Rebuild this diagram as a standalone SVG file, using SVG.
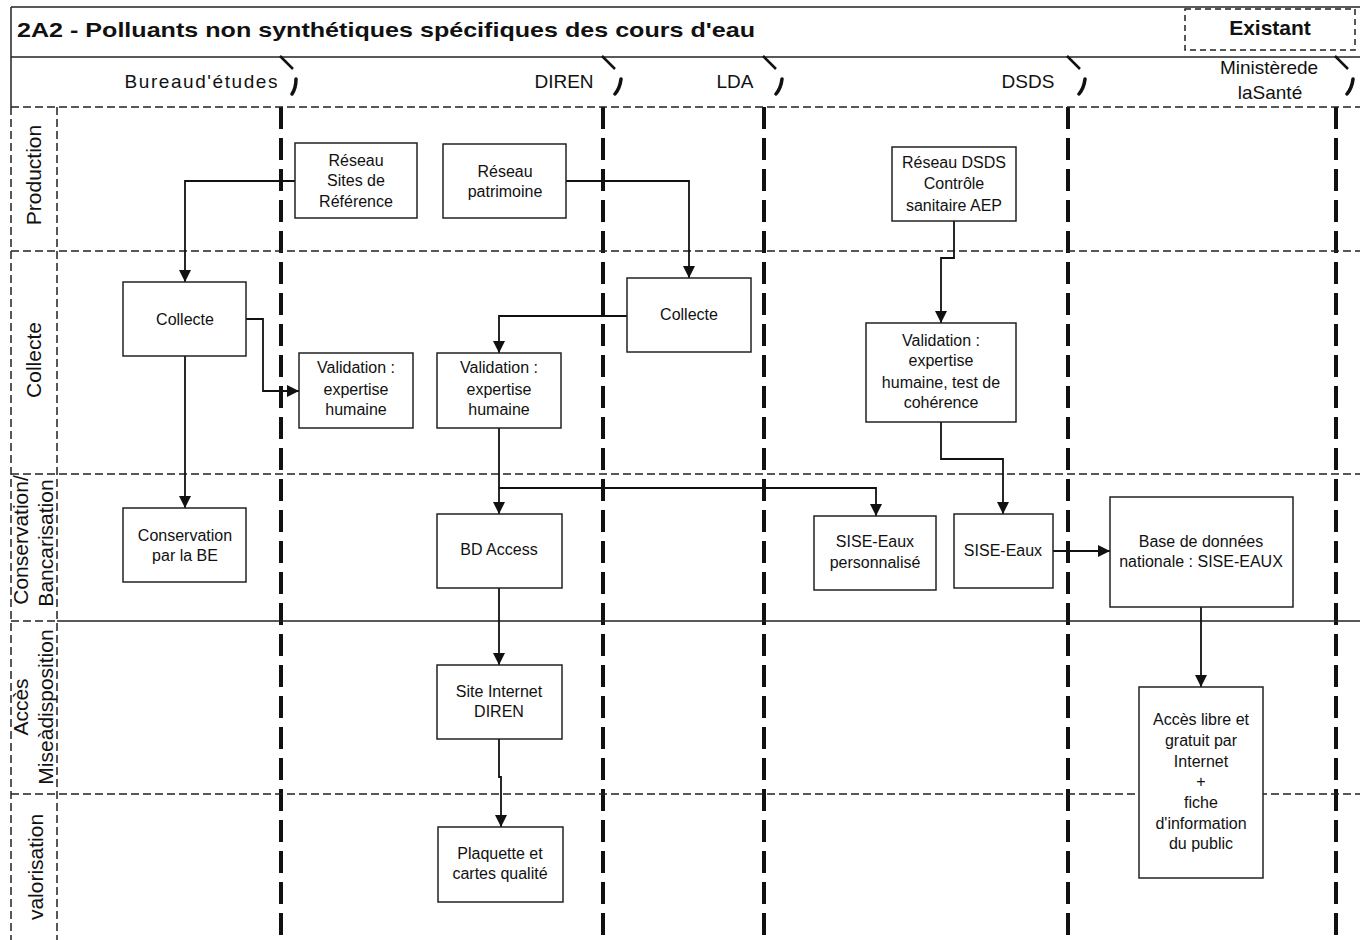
<svg xmlns="http://www.w3.org/2000/svg" width="1360" height="940" viewBox="0 0 1360 940">
<style>
.frame{stroke:#222;stroke-width:1.5;fill:none}
.rowd{stroke:#222;stroke-width:1.5;fill:none;stroke-dasharray:8 4}
.sep{stroke:#111;stroke-width:4;fill:none;stroke-dasharray:22 9}
.tick{stroke:#111;stroke-width:2.5;fill:none}
.tick2{stroke:#111;stroke-width:3.5;fill:none;stroke-linecap:round}
.box{fill:#fff;stroke:#222;stroke-width:1.5}
.t{font-family:"Liberation Sans",Arial,sans-serif;font-size:16px;fill:#111;text-anchor:middle}
.h{font-family:"Liberation Sans",Arial,sans-serif;font-size:19px;fill:#111;text-anchor:middle}
.rl{font-family:"Liberation Sans",Arial,sans-serif;font-size:21px;fill:#111;text-anchor:middle}
.c{stroke:#111;stroke-width:1.8;fill:none}
</style>
<defs>
<marker id="ar" markerUnits="userSpaceOnUse" markerWidth="12" markerHeight="12" refX="12" refY="6" orient="auto">
<path d="M0,0 L12,6 L0,12 z" fill="#111"/>
</marker>
</defs>
<rect width="1360" height="940" fill="#fff"/>
<g id="frame">
<line class="frame" x1="11" y1="7" x2="1360" y2="7"/>
<line class="frame" x1="11" y1="57" x2="1360" y2="57"/>
<line class="frame" x1="11" y1="7" x2="11" y2="107"/>
<text x="17" y="37" font-family="Liberation Sans,Arial,sans-serif" font-size="21" font-weight="bold" fill="#111" textLength="738" lengthAdjust="spacingAndGlyphs">2A2 - Polluants non synthétiques spécifiques des cours d'eau</text>
<rect x="1185" y="9" width="170" height="41" fill="none" stroke="#222" stroke-width="1.5" stroke-dasharray="6 4"/>
<text x="1270" y="35" font-family="Liberation Sans,Arial,sans-serif" font-size="21" font-weight="bold" fill="#111" text-anchor="middle">Existant</text>
</g>
<g id="lanes">
<text class="h" x="201" y="88" textLength="153" lengthAdjust="spacing">Bureaud'études</text>
<text class="h" x="564" y="88">DIREN</text>
<text class="h" x="735" y="88">LDA</text>
<text class="h" x="1028" y="88">DSDS</text>
<text class="h" x="1269" y="74">Ministèrede</text>
<text class="h" x="1270" y="99">laSanté</text>
<line class="sep" x1="281" y1="107" x2="281" y2="940"/>
<line class="sep" x1="603" y1="107" x2="603" y2="940"/>
<line class="sep" x1="764" y1="107" x2="764" y2="940"/>
<line class="sep" x1="1068" y1="107" x2="1068" y2="940"/>
<line class="sep" x1="1336" y1="107" x2="1336" y2="940"/>
<path class="tick" d="M280,56 L293,69 M602,56 L615,69 M763,56 L776,69 M1067,56 L1080,69 M1335,56 L1348,69"/>
<path class="tick2" d="M296,79 Q296,88 292,94 M621,79 Q620,88 615,94 M782,79 Q781,88 776,94 M1085,79 Q1084,88 1079,94 M1353,79 Q1352,88 1347,94"/>
</g>
<g id="rows">
<line class="rowd" x1="11" y1="107" x2="1360" y2="107"/>
<line class="rowd" x1="11" y1="251" x2="1360" y2="251"/>
<line class="rowd" x1="11" y1="474" x2="1360" y2="474"/>
<line class="rowd" x1="11" y1="621" x2="57" y2="621"/>
<line class="frame" x1="57" y1="621" x2="1360" y2="621"/>
<line class="rowd" x1="11" y1="794" x2="1360" y2="794"/>
<line class="rowd" x1="11" y1="107" x2="11" y2="940"/>
<line class="rowd" x1="57" y1="107" x2="57" y2="940"/>
<text class="rl" transform="translate(41,175) rotate(-90)">Production</text>
<text class="rl" transform="translate(41,360) rotate(-90)">Collecte</text>
<text class="rl" transform="translate(28,540) rotate(-90)">Conservation/</text>
<text class="rl" transform="translate(53,543) rotate(-90)">Bancarisation</text>
<text class="rl" transform="translate(28,707) rotate(-90)">Accès</text>
<text class="rl" transform="translate(53,707) rotate(-90)">Miseàdisposition</text>
<text class="rl" transform="translate(43,867) rotate(-90)">valorisation</text>
</g>
<g id="connectors">
<path class="c" d="M295,181 H185 V282" marker-end="url(#ar)"/>
<path class="c" d="M246,319 H263 V391 H299" marker-end="url(#ar)"/>
<path class="c" d="M185,356 V508" marker-end="url(#ar)"/>
<path class="c" d="M566,181 H689 V278" marker-end="url(#ar)"/>
<path class="c" d="M627,316 H499 V353" marker-end="url(#ar)"/>
<path class="c" d="M499,428 V514" marker-end="url(#ar)"/>
<path class="c" d="M499,488 H876 V516" stroke-width="1.5" marker-end="url(#ar)"/>
<path class="c" d="M954,221 V258 H941 V323" marker-end="url(#ar)"/>
<path class="c" d="M941,422 V459 H1003 V514" marker-end="url(#ar)"/>
<path class="c" d="M1053,551 H1110" marker-end="url(#ar)"/>
<path class="c" d="M1201,607 V687" marker-end="url(#ar)"/>
<path class="c" d="M499,588 V665" marker-end="url(#ar)"/>
<path class="c" d="M499,739 V777 H501 V827" marker-end="url(#ar)"/>
</g>
<g id="n-reseau-sites">
<rect class="box" x="295" y="143" width="122" height="75"/>
<text class="t" x="356" y="166">Réseau</text>
<text class="t" x="356" y="186">Sites de</text>
<text class="t" x="356" y="207">Référence</text>
</g>
<g id="n-reseau-patrimoine">
<rect class="box" x="443" y="144" width="123" height="74"/>
<text class="t" x="505" y="177">Réseau</text>
<text class="t" x="505" y="197">patrimoine</text>
</g>
<g id="n-collecte-lda">
<rect class="box" x="627" y="278" width="124" height="74"/>
<text class="t" x="689" y="320">Collecte</text>
</g>
<g id="n-validation-diren">
<rect class="box" x="437" y="353" width="124" height="75"/>
<text class="t" x="499" y="373">Validation :</text>
<text class="t" x="499" y="395">expertise</text>
<text class="t" x="499" y="415">humaine</text>
</g>
<g id="n-collecte-be">
<rect class="box" x="123" y="282" width="123" height="74"/>
<text class="t" x="185" y="325">Collecte</text>
</g>
<g id="n-validation-be">
<rect class="box" x="299" y="353" width="114" height="75"/>
<text class="t" x="356" y="373">Validation :</text>
<text class="t" x="356" y="395">expertise</text>
<text class="t" x="356" y="415">humaine</text>
</g>
<g id="n-reseau-dsds">
<rect class="box" x="892" y="147" width="124" height="74"/>
<text class="t" x="954" y="168">Réseau DSDS</text>
<text class="t" x="954" y="189">Contrôle</text>
<text class="t" x="954" y="211">sanitaire AEP</text>
</g>
<g id="n-validation-dsds">
<rect class="box" x="866" y="323" width="150" height="99"/>
<text class="t" x="941" y="346">Validation :</text>
<text class="t" x="941" y="366">expertise</text>
<text class="t" x="941" y="388">humaine, test de</text>
<text class="t" x="941" y="408">cohérence</text>
</g>
<g id="n-sise-perso">
<rect class="box" x="814" y="516" width="122" height="74"/>
<text class="t" x="875" y="547">SISE-Eaux</text>
<text class="t" x="875" y="568">personnalisé</text>
</g>
<g id="n-sise-eaux">
<rect class="box" x="954" y="514" width="99" height="74"/>
<text class="t" x="1003" y="556">SISE-Eaux</text>
</g>
<g id="n-base-nationale">
<rect class="box" x="1110" y="497" width="183" height="110"/>
<text class="t" x="1201" y="547">Base de données</text>
<text class="t" x="1201" y="567">nationale : SISE-EAUX</text>
</g>
<g id="n-acces-libre">
<rect class="box" x="1139" y="687" width="124" height="191"/>
<text class="t" x="1201" y="725">Accès libre et</text>
<text class="t" x="1201" y="746">gratuit par</text>
<text class="t" x="1201" y="767">Internet</text>
<text class="t" x="1201" y="787">+</text>
<text class="t" x="1201" y="808">fiche</text>
<text class="t" x="1201" y="829">d'information</text>
<text class="t" x="1201" y="849">du public</text>
</g>
<g id="n-bd-access">
<rect class="box" x="437" y="514" width="125" height="74"/>
<text class="t" x="499" y="555">BD Access</text>
</g>
<g id="n-site-internet">
<rect class="box" x="437" y="665" width="125" height="74"/>
<text class="t" x="499" y="697">Site Internet</text>
<text class="t" x="499" y="717">DIREN</text>
</g>
<g id="n-plaquette">
<rect class="box" x="438" y="827" width="125" height="75"/>
<text class="t" x="500" y="859">Plaquette et</text>
<text class="t" x="500" y="879">cartes qualité</text>
</g>
<g id="n-conservation-be">
<rect class="box" x="123" y="508" width="123" height="74"/>
<text class="t" x="185" y="541">Conservation</text>
<text class="t" x="185" y="561">par la BE</text>
</g>
</svg>
